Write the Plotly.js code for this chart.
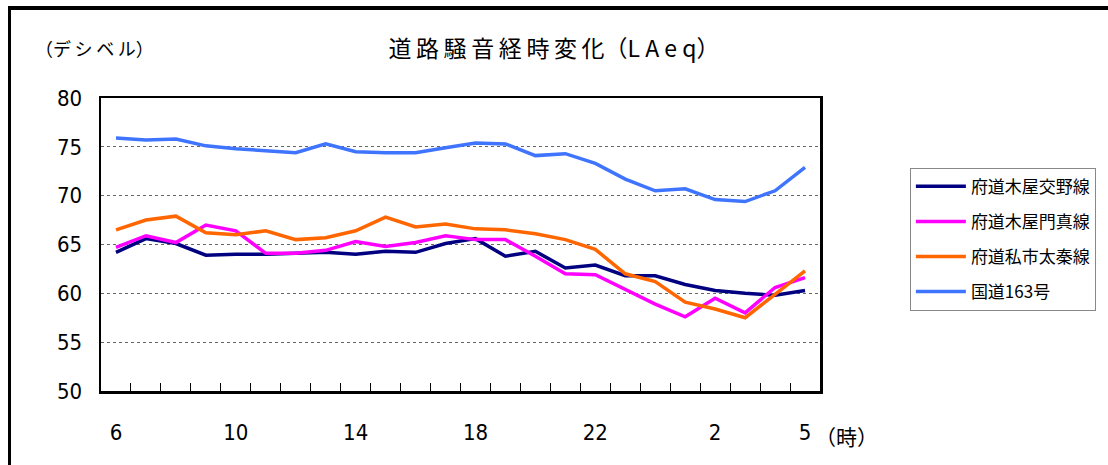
<!DOCTYPE html>
<html><head><meta charset="utf-8">
<script src="https://cdn.plot.ly/plotly-3.0.1.min.js"></script>
<style>
html,body{margin:0;padding:0;background:#fff;}
#wrap{position:relative;width:1108px;height:465px;}
#chart{width:1108px;height:465px;}
#frame{position:absolute;left:8px;top:6px;width:1110px;height:470px;border-top:4px solid #000;border-left:3px solid #000;pointer-events:none;}
</style></head>
<body><div id="wrap"><div id="chart"></div><div id="frame"></div></div>
<script>
const hours = ["6","7","8","9","10","11","12","13","14","15","16","17","18","19","20","21","22","23","0","1","2","3","4","5"];
const tickPositions = [0,4,8,12,16,20,23];
const tickLabels = ["6","10","14","18","22","2","5"];
const seriesNames = ["府道木屋交野線","府道木屋門真線","府道私市太秦線","国道163号"];
const kitaya_katano = [64.2,65.6,65.1,63.9,64.0,64.0,64.1,64.2,64.0,64.3,64.2,65.1,65.6,63.8,64.3,62.6,62.9,61.8,61.8,60.9,60.3,60.0,59.8,60.3];
const kitaya_kadoma = [64.7,65.9,65.2,67.0,66.4,64.1,64.1,64.4,65.3,64.8,65.2,65.9,65.5,65.5,63.8,62.0,61.9,60.4,58.9,57.6,59.5,58.0,60.6,61.6];
const kisaichi_uzumasa = [66.5,67.5,67.9,66.2,66.0,66.4,65.5,65.7,66.4,67.8,66.8,67.1,66.6,66.5,66.1,65.5,64.5,62.0,61.2,59.1,58.4,57.5,59.9,62.3];
const route163 = [75.9,75.7,75.8,75.1,74.8,74.6,74.4,75.3,74.5,74.4,74.4,74.9,75.4,75.3,74.1,74.3,73.3,71.7,70.5,70.7,69.6,69.4,70.5,72.9];
const colors = ["#000080","#FF00FF","#FF6600","#3F74FF"];
const allSeries = [kitaya_katano,kitaya_kadoma,kisaichi_uzumasa,route163];
const idx = hours.map((h,i)=>i);
const boundaries = hours.slice(1).map((h,i)=>i+0.5);

const jp = '"Noto Sans CJK JP", sans-serif';
const num = '"Liberation Sans Narrow","DejaVu Sans Condensed","Liberation Sans", sans-serif';
const ts = '\u2009';

const traces = allSeries.map((s,k)=>({
  x: idx, y: s, type:'scatter', mode:'lines', name: seriesNames[k],
  legendgroup: 'g'+k,
  line:{color:colors[k], width:3.5},
  hoverinfo:'skip'
}));
traces.push({x:[0], y:[null], xaxis:'x2', type:'scatter', mode:'lines', showlegend:false, hoverinfo:'skip'});

const titleText = ['道','路','騒','音','経','時','変','化'].join(ts) + '（L A e q）';

const layout = {
  width:1108, height:465,
  margin:{l:101, r:286, t:98, b:74},
  paper_bgcolor:'#fff', plot_bgcolor:'#fff',
  showlegend:true,
  title:{text:titleText, x:0.63, xref:'paper', xanchor:'center', y:0.895, yref:'container', yanchor:'middle',
         font:{family:jp, size:23, color:'#000'}},
  xaxis:{range:[-0.5,23.5], tickvals:boundaries, ticktext:boundaries.map(()=>''), ticks:'inside', ticklen:8, tickcolor:'#000', tickwidth:1,
         showline:true, linecolor:'#000', linewidth:2.5, mirror:true, showgrid:false, zeroline:false, fixedrange:true},
  xaxis2:{overlaying:'x', matches:'x', side:'bottom', anchor:'y', range:[-0.5,23.5], tickvals:tickPositions, ticktext:tickLabels,
          ticks:'', showline:false, showgrid:false, zeroline:false, ticklabelstandoff:26,
          tickfont:{family:num, size:22, color:'#000'}},
  yaxis:{range:[50,80], dtick:5, tick0:50, showline:true, linecolor:'#000', linewidth:2.5, mirror:true,
         showgrid:true, gridcolor:'#666', griddash:'dot', gridwidth:1, zeroline:false, ticks:'', ticklabelstandoff:12,
         tickfont:{family:num, size:22, color:'#000'}},
  legend:{x:1.125, xanchor:'left', y:0.762, yanchor:'top', bordercolor:'#888', borderwidth:1, bgcolor:'#fff',
          font:{family:jp, size:17, color:'#000'}, tracegroupgap:10, itemwidth:50},
  annotations:[
    {text:'（デ'+ts+'シ'+ts+'ベ'+ts+'ル）', xref:'paper', yref:'paper', x:-0.095, y:1.17, xanchor:'left', yanchor:'middle', showarrow:false,
     font:{family:jp, size:18, color:'#000'}},
    {text:'（時）', xref:'paper', yref:'paper', x:0.99, y:-0.155, xanchor:'left', yanchor:'middle', showarrow:false,
     font:{family:jp, size:21, color:'#000'}}
  ]
};
Plotly.newPlot('chart', traces, layout, {staticPlot:true, displayModeBar:false});
</script></body></html>
